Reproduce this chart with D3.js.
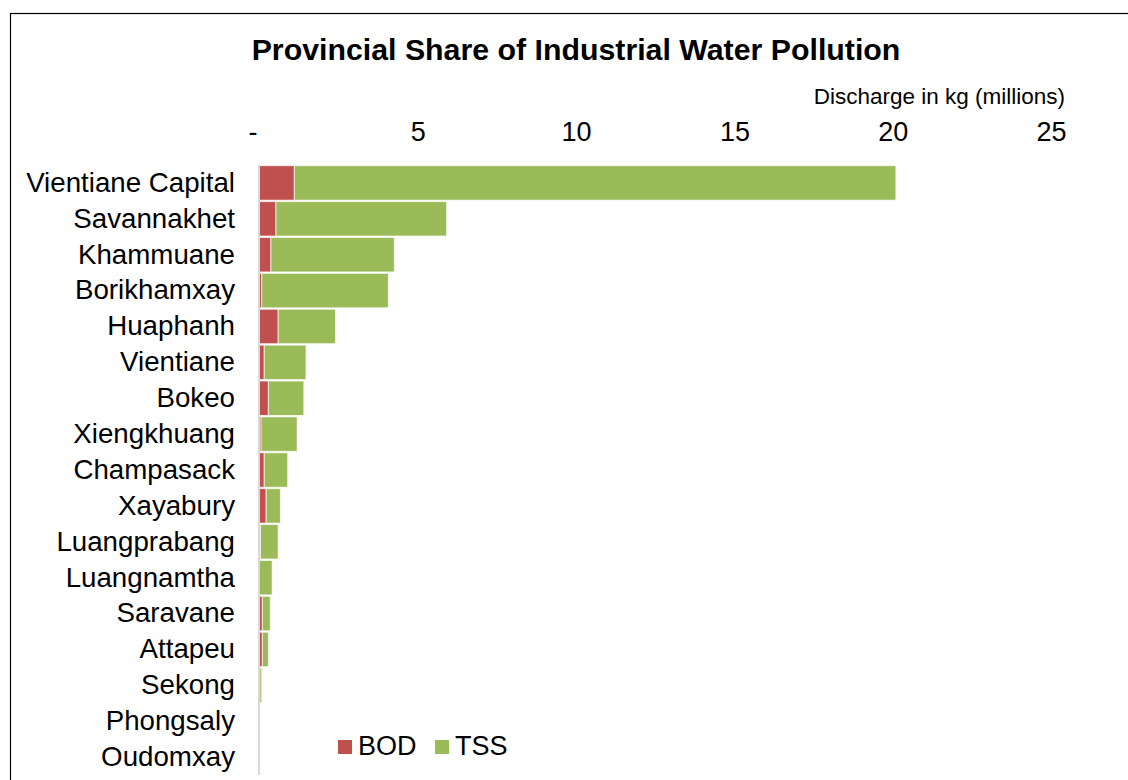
<!DOCTYPE html>
<html>
<head>
<meta charset="utf-8">
<script src="https://cdn.jsdelivr.net/npm/d3@7"></script>
<style>
  html, body { margin: 0; padding: 0; background: #fff; }
  svg { display: block; font-family: "Liberation Sans", Arial, sans-serif; }
</style>
</head>
<body>
<svg id="chart" width="1128" height="780"></svg>
<script>
// Provinces, ordered from largest to smallest total discharge
const provinces = [
  "Vientiane Capital", "Savannakhet", "Khammuane", "Borikhamxay", "Huaphanh",
  "Vientiane", "Bokeo", "Xiengkhuang", "Champasack", "Xayabury",
  "Luangprabang", "Luangnamtha", "Saravane", "Attapeu", "Sekong",
  "Phongsaly", "Oudomxay"
];
// Discharge in kg (millions)
const bod = [1.10, 0.52, 0.36, 0.07, 0.59, 0.15, 0.28, 0.05, 0.15, 0.21, 0.03, 0.00, 0.09, 0.09, 0.01, 0.00, 0.00];
const tss = [19.00, 5.39, 3.90, 4.00, 1.81, 1.32, 1.12, 1.14, 0.74, 0.45, 0.56, 0.40, 0.25, 0.19, 0.06, 0.00, 0.00];
const seriesNames = ["BOD", "TSS"];
const seriesColors = ["#C0504D", "#9BBB59"];
const tickValues = [0, 5, 10, 15, 20, 25];
const tickLabels = ["-", "5", "10", "15", "20", "25"];

const rows = provinces.map((p, i) => ({ province: p, BOD: bod[i], TSS: tss[i] }));
const stacked = d3.stack().keys(seriesNames)(rows);

const svg = d3.select("#chart");

// outer chart frame
svg.append("rect")
  .attr("x", 10.5).attr("y", 13.5)
  .attr("width", 1200).attr("height", 900)
  .attr("fill", "none").attr("stroke", "#000").attr("stroke-width", 1.2);

const x = d3.scaleLinear().domain([0, 25]).range([259.5, 1051]);
const y = d3.scaleBand().domain(provinces).range([165, 775]).paddingInner(0.04).paddingOuter(0.02);
const color = d3.scaleOrdinal().domain(seriesNames).range(seriesColors);

// title
svg.append("text")
  .attr("x", 576).attr("y", 60)
  .attr("text-anchor", "middle")
  .attr("font-size", 30.3).attr("font-weight", "bold")
  .attr("fill", "#000")
  .text("Provincial Share of Industrial Water Pollution");

// axis title
svg.append("text")
  .attr("x", 1065).attr("y", 104)
  .attr("text-anchor", "end")
  .attr("font-size", 22.5)
  .attr("fill", "#000")
  .text("Discharge in kg (millions)");

// top value axis
const xAxis = d3.axisTop(x)
  .tickValues(tickValues)
  .tickFormat((d, i) => tickLabels[i])
  .tickSize(0).tickPadding(0);
const gx = svg.append("g").attr("transform", "translate(0,141)").call(xAxis);
gx.select(".domain").remove();
gx.selectAll("text")
  .attr("font-size", 27).attr("font-family", "Liberation Sans, Arial, sans-serif")
  .attr("fill", "#000").attr("dy", 0);
gx.selectAll(".tick").filter(d => d === 0).select("text").attr("dx", -7);

// bars
svg.append("g")
  .selectAll("g")
  .data(stacked)
  .join("g")
  .attr("fill", d => color(d.key))
  .selectAll("rect")
  .data(d => d)
  .join("rect")
  .attr("x", d => x(d[0]))
  .attr("y", d => y(d.data.province))
  .attr("width", d => Math.max(0, x(d[1]) - x(d[0])))
  .attr("height", y.bandwidth())
  .attr("stroke", "#fff").attr("stroke-width", 1)
  .attr("stroke-opacity", 0.7);

// category axis line
svg.append("line")
  .attr("x1", x(0) - 0.5).attr("x2", x(0) - 0.5)
  .attr("y1", 165).attr("y2", 775)
  .attr("stroke", "#D9D9D9").attr("stroke-width", 2);

// category labels
const yAxis = d3.axisLeft(y).tickSize(0).tickPadding(0);
const gy = svg.append("g").attr("transform", "translate(235,0)").call(yAxis);
gy.select(".domain").remove();
gy.selectAll("text")
  .attr("font-size", 27.7).attr("font-family", "Liberation Sans, Arial, sans-serif")
  .attr("fill", "#000");

// legend
const legend = svg.append("g").selectAll("g")
  .data(seriesNames)
  .join("g")
  .attr("transform", (d, i) => `translate(${[338, 435][i]},740)`);
legend.append("rect")
  .attr("width", 14).attr("height", 14)
  .attr("fill", d => color(d));
legend.append("text")
  .attr("x", 20).attr("y", 14.5)
  .attr("font-size", 27).attr("fill", "#000")
  .text(d => d);
</script>
</body>
</html>
